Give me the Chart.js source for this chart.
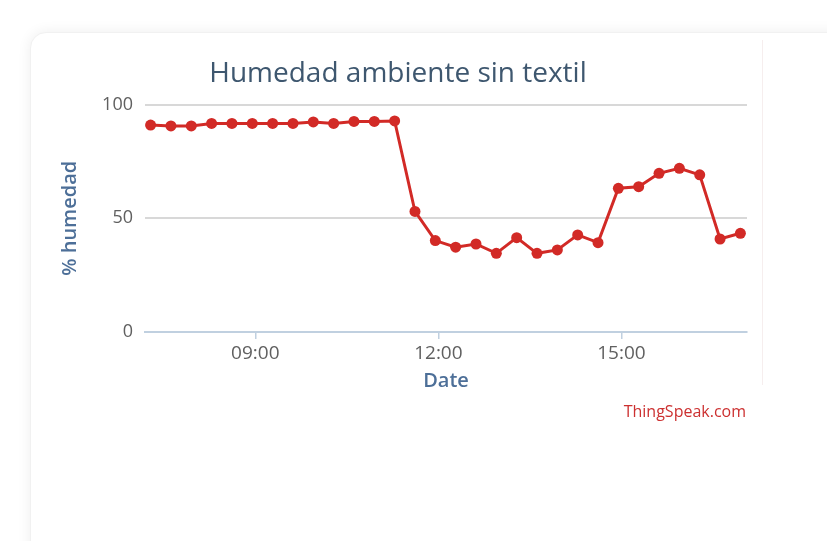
<!DOCTYPE html>
<html>
<head>
<meta charset="utf-8">
<script src="https://cdn.jsdelivr.net/npm/chart.js@4"></script>
<style>
  html, body { margin: 0; padding: 0; background: #ffffff; }
  body { width: 827px; height: 541px; position: relative; overflow: hidden; }
  #card { position: absolute; left: 30px; top: 32px; width: 900px; height: 600px;
          background: #fff; border: 1px solid #f1f1f1; border-radius: 16px;
          box-shadow: 0 0 14px rgba(0,0,0,0.07); }
  #edge { position: absolute; left: 762px; top: 40px; width: 1px; height: 345px; background: #f6eeee; }
  #wrap { position: absolute; left: 30px; top: 30px; width: 735px; height: 400px; }
  #credit { position: absolute; right: 81px; top: 400px; font-family: "Open Sans", sans-serif;
            font-size: 16px; color: #cc3030; }
</style>
</head>
<body>
<div id="card"></div>
<div id="edge"></div>
<div id="wrap"><canvas id="c" width="735" height="400"></canvas></div>
<div id="credit">ThingSpeak.com</div>
<script>
// Minutes since midnight (first reading ~07:17, every ~20 min)
const times = [437,457,477,497,517,537,557,577,597,617,637,657,677,697,717,737,757,777,797,817,837,857,877,897,917,937,957,977,997,1017];
const humedad = [91,90.6,90.6,91.7,91.7,91.7,91.7,91.7,92.4,91.7,92.6,92.6,92.8,53,40.2,37.3,38.7,34.6,41.5,34.6,36.1,42.7,39.3,63.2,63.9,69.8,72,69.1,40.9,43.4];
const xTickMinutes = [540, 720, 900];
const yTicks = [0, 50, 100];
const titleText = "Humedad ambiente sin textil";
const yTitle = "% humedad";
const xTitle = "Date";

const pts = times.map((t, i) => ({x: t, y: humedad[i]}));
const fmt = m => String(Math.floor(m / 60)).padStart(2, '0') + ':' + String(m % 60).padStart(2, '0');

new Chart(document.getElementById('c'), {
  type: 'line',
  data: { datasets: [{
    data: pts,
    borderColor: '#d22a26',
    backgroundColor: '#d22a26',
    borderWidth: 3,
    pointRadius: 5.5,
    pointBackgroundColor: '#d22a26',
    pointBorderWidth: 0,
    tension: 0
  }]},
  options: {
    responsive: false,
    animation: false,
    layout: { padding: { left: 19, right: 18, top: 0, bottom: 36 } },
    plugins: {
      legend: { display: false },
      tooltip: { enabled: false },
      title: { display: true, text: titleText, color: '#3e576f',
               font: { family: 'Open Sans', size: 28, weight: 'normal' },
               padding: { top: 27, bottom: 14 } }
    },
    scales: {
      x: {
        type: 'linear',
        min: times[0] - 5.5,
        max: times[times.length - 1] + 6.5,
        afterBuildTicks: s => { s.ticks = xTickMinutes.map(v => ({value: v})); },
        afterFit: s => { s.height = 62; },
        ticks: { callback: v => fmt(v), color: '#606060', padding: 3,
                 font: { family: 'Open Sans', size: 19 }, maxRotation: 0, autoSkip: false },
        grid: { drawOnChartArea: false, drawTicks: true, tickLength: 7, color: '#c0d0e0', lineWidth: 1.5 },
        border: { display: true, color: '#c0d0e0', width: 2 },
        title: { display: true, text: xTitle, color: '#4d6f98',
                 font: { family: 'Open Sans', size: 20, weight: '600' }, padding: { top: 0, bottom: 0.5 } }
      },
      y: {
        min: 0, max: 100,
        afterBuildTicks: s => { s.ticks = yTicks.map(v => ({value: v})); },
        afterFit: s => { s.width = 96; },
        ticks: { color: '#606060', padding: 12, font: { family: 'Open Sans', size: 18 } },
        grid: { color: '#d8d8d8', lineWidth: 2, drawTicks: false },
        border: { display: false },
        title: { display: true, text: yTitle, color: '#4d6f98',
                 font: { family: 'Open Sans', size: 20, weight: '600' }, padding: { top: 9, bottom: 0 } }
      }
    }
  }
});
</script>
</body>
</html>
